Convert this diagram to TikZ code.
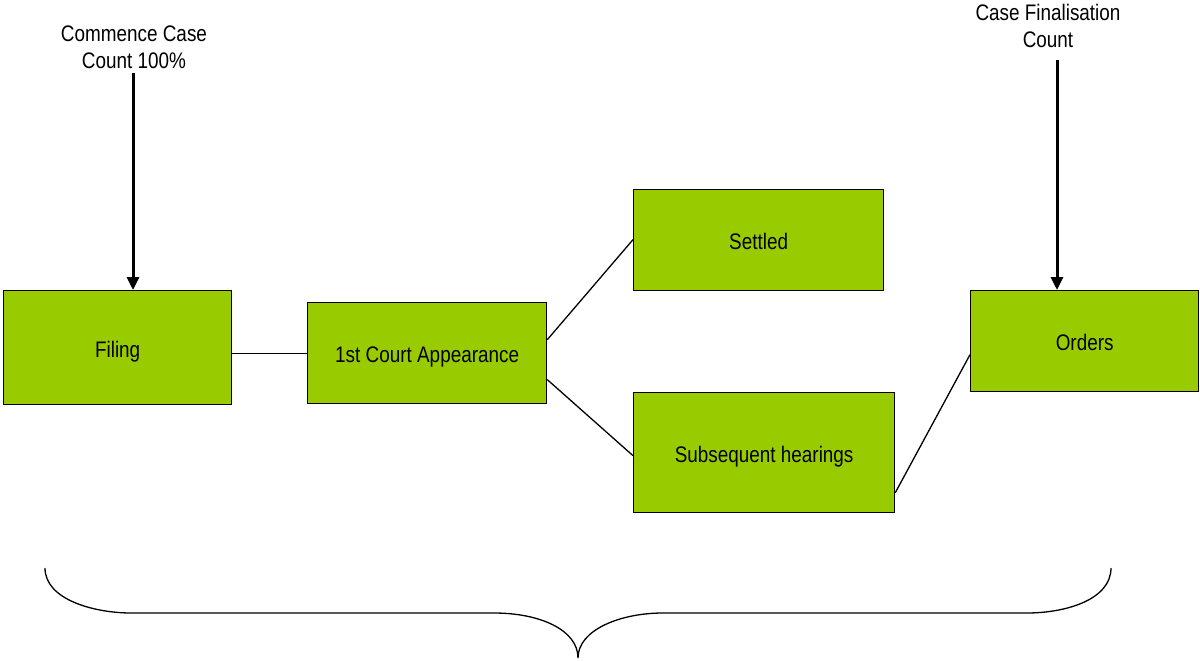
\documentclass[tikz,border=0pt]{standalone}
\usepackage{fontspec}
\setmainfont{Liberation Sans}[FakeStretch=0.84]
\usetikzlibrary{arrows.meta}
\definecolor{boxgreen}{RGB}{153,204,0}
\begin{document}
\begin{tikzpicture}[x=1pt,y=-1pt,
  every node/.style={font=\fontsize{22.5}{27}\selectfont},
  stagebox/.style={draw=black,line width=1.3pt,fill=boxgreen,inner sep=0pt,anchor=north west},
  boxtext/.style={inner sep=0pt,text height=16pt,text depth=0pt,yshift=-1.5pt},
  label/.style={align=center,inner sep=0pt},
  link/.style={draw=black,line width=1.3pt},
  countarrow/.style={draw=black,line width=3pt,-{Triangle[width=12pt,length=13pt]}}]
\useasboundingbox (0,0) rectangle (1200,661);
\node[stagebox,minimum width=228pt,minimum height=114pt] (fil) at (3,290) {};
\node[boxtext] (filt) at (fil.center) {Filing};
\node[stagebox,minimum width=239pt,minimum height=101pt] (ca) at (307,302) {};
\node[boxtext] (cat) at (ca.center) {1st Court Appearance};
\node[stagebox,minimum width=250pt,minimum height=101pt] (set) at (633,189) {};
\node[boxtext] (sett) at (set.center) {Settled};
\node[stagebox,minimum width=261pt,minimum height=120pt] (sub) at (633,392) {};
\node[boxtext] (subt) at (sub.center) {Subsequent hearings};
\node[stagebox,minimum width=228pt,minimum height=101pt] (ord) at (970,290) {};
\node[boxtext] (ordt) at (ord.center) {Orders};
\node[label] (cc) at (134,47) {Commence Case\\Count 100\%};
\node[label] (cf) at (1048,26) {Case Finalisation\\Count};
\coordinate (a1) at (133,73);
\coordinate (a2) at (1057,60);
\draw[countarrow] (a1) -- (a1 |- fil.north);
\draw[countarrow] (a2) -- (a2 |- ord.north);
\draw[link] (ca.west -| fil.east) -- (ca.west);
\draw[link] ([yshift=13.5pt]ca.east) -- ([yshift=0.5pt]set.west);
\draw[link] ([yshift=-26.5pt]ca.east) -- ([yshift=-3pt]sub.west);
\draw[link] ([yshift=-40pt]sub.east) -- ([yshift=-13.5pt]ord.west);
\coordinate (bl) at (45,568);
\coordinate (bt) at (578,658);
\coordinate (br) at (1111,568);
\draw[line width=1.3pt] (bl) .. controls (45,600) and (95,613) .. (131,613) -- (494,613)
  .. controls (540,613) and (578,630) .. (bt)
  .. controls (578,630) and (620,613) .. (663,613) -- (1027,613)
  .. controls (1065,613) and (1111,600) .. (br);
\end{tikzpicture}
\end{document}
